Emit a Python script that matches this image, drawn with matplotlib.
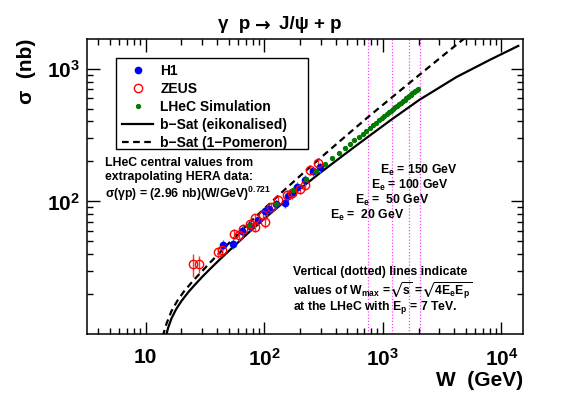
import matplotlib
matplotlib.use('Agg')
import matplotlib.pyplot as plt
from matplotlib.patches import Rectangle
from matplotlib.ticker import NullFormatter

plt.rcParams['font.family'] = ['Liberation Sans', 'DejaVu Sans']
plt.rcParams['font.weight'] = 'bold'
plt.rcParams['mathtext.fontset'] = 'custom'
plt.rcParams['mathtext.rm'] = 'Liberation Sans:bold'
plt.rcParams['mathtext.it'] = 'Liberation Sans:bold'
plt.rcParams['mathtext.bf'] = 'Liberation Sans:bold'
plt.rcParams['mathtext.sf'] = 'Liberation Sans:bold'
plt.rcParams['mathtext.fallback'] = 'stixsans'

# H1 data (W in GeV, sigma in nb)
h1_w = [45, 55, 65, 76, 89, 101, 110, 125, 150, 159, 175, 188, 220, 259, 295]
h1_sigma = [47, 48, 60, 65, 72, 84, 88, 95, 97, 109, 118, 129, 145, 168, 180]
h1_err = [4, 4, 5, 5, 6, 7, 7, 8, 8, 9, 10, 11, 12, 14, 15]

# ZEUS data
zeus_w = [25, 28, 41, 44, 56, 61, 66, 76, 84, 84, 98, 101, 115, 131, 154, 170, 200, 220, 243, 286]
zeus_sigma = [33.5, 34, 41.5, 43, 57, 55.5, 62, 68, 64.5, 74.5, 79, 70, 90, 102, 112, 115, 125, 133, 173, 195]
zeus_err = [6.5, 5, 4, 4, 5, 5, 5, 6, 6, 6, 7, 7, 8, 9, 10, 10, 11, 12, 15, 17]

# LHeC simulated central values
lhec_w = [75, 125, 175, 225, 275, 325, 375, 425, 475, 525, 575, 625, 675, 725, 775,
          825, 875, 925, 975, 1025, 1075, 1125, 1175, 1225, 1275, 1325, 1375, 1425,
          1475, 1525, 1575, 1625, 1675, 1725, 1775, 1825, 1875, 1925, 1975]
lhec_sigma = [66.6, 96.2, 122.6, 147.0, 169.8, 191.5, 212.4, 232.4, 251.8, 270.7, 289.1,
              307.0, 324.5, 341.7, 358.5, 375.0, 391.3, 407.3, 423.0, 438.6, 453.9, 469.1,
              484.0, 498.8, 513.4, 527.8, 542.0, 556.2, 570.2, 584.1, 597.7, 611.3, 624.8,
              638.2, 651.5, 664.7, 677.8, 690.8, 703.7]

# b-Sat curves
eik_w = [14.8, 15.5, 16.5, 18, 20, 23, 26, 30, 35, 41, 55, 75, 100, 150, 200, 300, 500,
         748, 1184, 2023, 4190, 8000, 13870]
eik_sigma = [9.6, 11.2, 13.1, 15.3, 17.7, 20.8, 23.5, 27.0, 31.0, 35.6, 45.6, 58.9, 74.0,
             100.7, 124.2, 165.6, 234, 306, 414, 581, 867, 1167, 1486]
pom_w = [13.9, 15, 16.5, 18.5, 21, 25.2, 35, 50, 70, 100, 150, 230, 325, 500, 748, 1500,
         3000, 4615, 6000]
pom_sigma = [9.6, 12.0, 14.9, 17.8, 20.9, 25.3, 34.6, 48.1, 64.9, 88.1, 123.3, 173.8,
             227.5, 317, 431, 720, 1194, 1629, 1963]

# W_max = sqrt(4 Ee Ep) for Ee = 20, 50, 100, 150 GeV, Ep = 7 TeV
wmax = [748, 1183, 1673, 2049]

fig = plt.figure(figsize=(5.81, 3.94), dpi=100)
ax = fig.add_axes([87 / 581, 60 / 394, 436 / 581, 295 / 394])
ax.set_xscale('log')
ax.set_yscale('log')
ax.set_xlim(3.2, 15200)
ax.set_ylim(10, 1675)

for w in wmax:
    ax.axvline(w, color='#ff40ff', lw=0.9, ls=(0, (1, 1.5)), zorder=1)

eik_line, = ax.plot(eik_w, eik_sigma, color='black', lw=1.6, zorder=2)
pom_line, = ax.plot(pom_w, pom_sigma, color='black', lw=1.6, ls=(0, (3, 2)), zorder=2)

ax.errorbar(zeus_w, zeus_sigma, yerr=zeus_err, fmt='none', ecolor='#ff3030', elinewidth=1, zorder=3)
ax.errorbar(h1_w, h1_sigma, yerr=h1_err, fmt='none', ecolor='#4060ff', elinewidth=1, zorder=3)
h1_pts, = ax.plot(h1_w, h1_sigma, 'o', color='blue', ms=4.5, ls='none', zorder=4)
zeus_pts, = ax.plot(zeus_w, zeus_sigma, 'o', mfc='none', mec='red', mew=1.0, ms=6, ls='none', zorder=5)
lhec_pts, = ax.plot(lhec_w, lhec_sigma, 'o', color='#007a00', ms=2.8, ls='none', zorder=6)

leg = ax.legend([h1_pts, zeus_pts, lhec_pts, eik_line, pom_line],
                ['H1', 'ZEUS', 'LHeC Simulation', 'b\u2212Sat (eikonalised)', 'b\u2212Sat (1\u2212Pomeron)'],
                loc='upper left', bbox_to_anchor=(0.0665, 0.9356), borderaxespad=0,
                prop={'weight': 'bold', 'size': 10}, frameon=False,
                handlelength=2.3, handletextpad=0.5, labelspacing=0.3, borderpad=0.4)
# ROOT style legend box
ax.add_patch(Rectangle((29 / 436, 185 / 295), 192 / 436, 91 / 295, transform=ax.transAxes,
                       fill=False, edgecolor='black', lw=1.0, zorder=7))

# axes and ticks
ax.set_xticks([10, 100, 1000, 10000], ['10', r'$10^{2}$', r'$10^{3}$', r'$10^{4}$'])
ax.set_yticks([100, 1000], [r'$10^{2}$', r'$10^{3}$'])
ax.xaxis.set_minor_formatter(NullFormatter())
ax.yaxis.set_minor_formatter(NullFormatter())
ax.tick_params(which='both', direction='in', top=True, right=True, width=1)
ax.tick_params(which='major', length=9, labelsize=15)
ax.tick_params(which='minor', length=4.5)
ax.tick_params(axis='x', which='major', pad=10)
ax.tick_params(axis='y', which='major', pad=5)
for s in ax.spines.values():
    s.set_linewidth(1.1)

ax.set_xlabel('W  (GeV)', loc='right', fontsize=15, fontweight='bold', labelpad=1)
ax.set_ylabel('\u03c3  (nb)', loc='top', fontsize=15, fontweight='bold', labelpad=8)

# title, split so the arrow can come from DejaVu
fig.text(250 / 581, 0.937, '\u03b3  p', ha='right', va='center', fontsize=13.5)
fig.text(263 / 581, 0.937, '\u2192', ha='center', va='center', fontsize=13.5, family='DejaVu Sans')
fig.text(279 / 581, 0.937, 'J/\u03c8 + p', ha='left', va='center', fontsize=13.5)

# annotations
tsize = 8.8
ax.text(0.041, 0.580, 'LHeC central values from', transform=ax.transAxes, fontsize=tsize, va='center')
ax.text(0.041, 0.532, 'extrapolating HERA data:', transform=ax.transAxes, fontsize=tsize, va='center')
ax.text(0.041, 0.475, '\u03c3(\u03b3p) = (2.96 nb)(W/GeV)$^{0.721}$', transform=ax.transAxes, fontsize=tsize, va='center')

ax.text(0.672, 0.556, 'E$_{e}$ = 150 GeV', transform=ax.transAxes, fontsize=tsize, va='center')
ax.text(0.651, 0.505, 'E$_{e}$ = 100 GeV', transform=ax.transAxes, fontsize=tsize, va='center')
ax.text(0.615, 0.454, 'E$_{e}$ =  50 GeV', transform=ax.transAxes, fontsize=tsize, va='center')
ax.text(0.557, 0.403, 'E$_{e}$ =  20 GeV', transform=ax.transAxes, fontsize=tsize, va='center')

ax.text(0.4725, 0.210, 'Vertical (dotted) lines indicate', transform=ax.transAxes, fontsize=tsize, va='center')
ax.text(0.4725, 0.147, r'values of W$_{max}$ =$\sqrt{s}$ =$\sqrt{4E_{e}E_{p}}$', transform=ax.transAxes, fontsize=tsize, va='center')
ax.text(0.4725, 0.0915, 'at the LHeC with E$_{p}$ = 7 TeV.', transform=ax.transAxes, fontsize=tsize, va='center')

fig.savefig('out.png', dpi=100)
